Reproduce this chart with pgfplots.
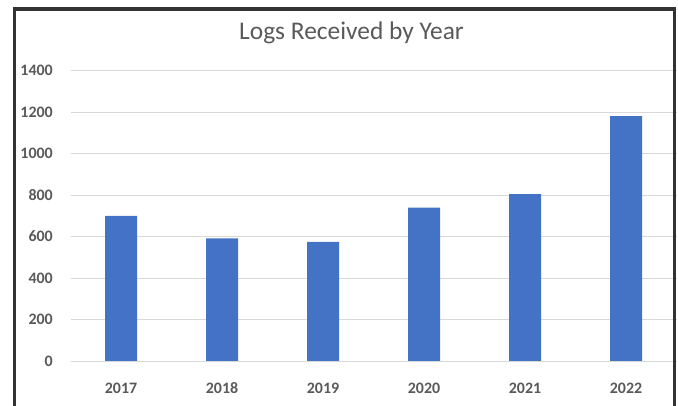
\documentclass[border=0pt]{standalone}
\usepackage{fontspec}
\setmainfont{Carlito}
\usepackage{pgfplots}
\pgfplotsset{compat=1.18}

\definecolor{barblue}{HTML}{4472C4}
\definecolor{txtgray}{HTML}{595959}
\definecolor{gridgray}{HTML}{D9D9D9}

\begin{document}
\begin{tikzpicture}
    \useasboundingbox (0,0) rectangle (678bp,406bp);
    \begin{axis}[
        at={(70.5bp,45bp)},
        anchor=south west,
        scale only axis,
        width=606bp,
        height=290.3bp,
        xmin=-0.5, xmax=5.5,
        ymin=0, ymax=1400,
        ybar,
        bar width=32bp,
        xtick=data,
        xticklabels={2017,2018,2019,2020,2021,2022},
        ytick={0,200,400,600,800,1000,1200,1400},
        yticklabels={0,200,400,600,800,1000,1200,1400},
        axis line style={draw=none},
        tick style={draw=none},
        ymajorgrids=true,
        grid style={gridgray, line width=1bp},
        xticklabel style={font=\bfseries\fontsize{16}{16}\selectfont, text=txtgray,
            inner sep=0pt, anchor=base, yshift=-28.5bp},
        yticklabel style={font=\bfseries\fontsize{16}{16}\selectfont, text=txtgray,
            inner sep=0pt, anchor=east, xshift=-17.5bp},
    ]
    \addplot[fill=barblue, draw=none] coordinates {
        (0,700)
        (1,591)
        (2,575)
        (3,740)
        (4,805)
        (5,1181)
    };
    \end{axis}
    % title
    \node[anchor=base, text=txtgray, inner sep=0pt,
        font=\fontsize{25.5}{25.5}\selectfont] at (351.5bp,366.7bp) {Logs Received by Year};
    % frame (bottom edge lies outside the picture)
    \draw[line width=3.5bp, black!80] (14.3bp,-10bp) -- (14.3bp,397bp)
        -- (674.5bp,397bp) -- (674.5bp,-10bp);
\end{tikzpicture}
\end{document}
